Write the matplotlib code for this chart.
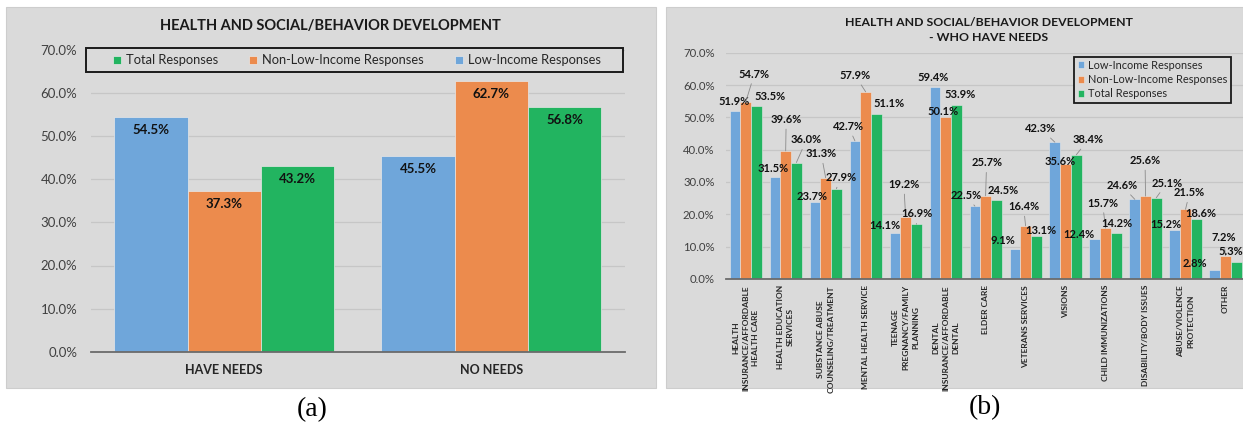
import matplotlib
matplotlib.use('Agg')
import matplotlib.pyplot as plt
from matplotlib.patches import Rectangle
import numpy as np

# ---------------- data ----------------
series_names = ['Low-Income Responses', 'Non-Low-Income Responses', 'Total Responses']

a_categories = ['HAVE NEEDS', 'NO NEEDS']
a_low = [54.5, 45.5]
a_non = [37.3, 62.7]
a_total = [43.2, 56.8]

b_categories = [
    'HEALTH\nINSURANCE/AFFORDABLE\nHEALTH CARE',
    'HEALTH EDUCATION\nSERVICES',
    'SUBSTANCE ABUSE\nCOUNSELING/TREATMENT',
    'MENTAL HEALTH SERVICE',
    'TEENAGE\nPREGNANCY/FAMILY\nPLANNING',
    'DENTAL\nINSURANCE/AFFORDABLE\nDENTAL',
    'ELDER CARE',
    'VETERANS SERVICES',
    'VISIONS',
    'CHILD IMMUNIZATIONS',
    'DISABILITY/BODY ISSUES',
    'ABUSE/VIOLENCE\nPROTECTION',
    'OTHER',
]
b_low = [51.9, 31.5, 23.7, 42.7, 14.1, 59.4, 22.5, 9.1, 42.3, 12.4, 24.6, 15.2, 2.8]
b_non = [54.7, 39.6, 31.3, 57.9, 19.2, 50.1, 25.7, 16.4, 35.6, 15.7, 25.6, 21.5, 7.2]
b_total = [53.5, 36.0, 27.9, 51.1, 16.9, 53.9, 24.5, 13.1, 38.4, 14.2, 25.1, 18.6, 5.3]

y_ticks = [0, 10, 20, 30, 40, 50, 60, 70]

# label placement (pixel offsets from bar top, Excel-moved labels)
b_low_off = [(-1, 10), (-1.5, 9), (-2.5, 6), (-6.5, 14.4), (-10.5, 7.8), (-2, 9.7), (-8.8, 10.6),
             (-11.5, 9), (-14, 13.4), (-15.5, 4.3), (-13, 13.8), (-9, 5), (-19.8, 6.6)]
b_non_off = [(8.6, 28), (0.5, 31.4), (-4.5, 24), (-10.5, 16.3), (-1.8, 32.3), (-3, 5.5), (1, 33),
             (-2, 19.3), (-5, 2), (-3, 25), (-0.5, 35.6), (4, 16.6), (-2, 17.7)]
b_total_off = [(13.5, 9.5), (10, 22.7), (4.5, 11), (13, 10), (1, 10.4), (4, 10), (7, 9),
               (5, 6), (12, 15), (0.5, 9), (10.5, 14.5), (4.5, 5), (-5, 10.5)]
b_low_lead = [0, 0, 0, 1, 0, 0, 1, 0, 1, 0, 1, 0, 0]
b_non_lead = [1, 1, 1, 1, 1, 0, 1, 1, 0, 1, 1, 1, 1]
b_total_lead = [0, 1, 1, 0, 1, 0, 0, 0, 1, 0, 1, 0, 0]

# ---------------- style ----------------
W, H = 1243, 428
BLUE = '#6fa6da'
ORANGE = '#ec8b4d'
GREEN = '#22b460'
PANEL = '#dadada'
GRID = '#c6c6c6'
FONT = ['Lato', 'DejaVu Sans']
plt.rcParams['font.family'] = FONT


def fx(x):
    return x / W


def fy(y):
    return 1 - y / H


fig = plt.figure(figsize=(W / 100, H / 100), dpi=100)
fig.patch.set_facecolor('white')

for (x0, y0, x1, y1) in [(5.7, 7.3, 656, 388.3), (666, 7.3, 1243, 388.3)]:
    fig.patches.append(Rectangle((fx(x0), fy(y1)), fx(x1) - fx(x0), fy(y0) - fy(y1),
                                 transform=fig.transFigure, facecolor=PANEL,
                                 edgecolor='#cdcdcd', lw=0.8, zorder=-5))


def style_axes(ax, fs, pad_y, pad_x):
    ax.set_facecolor('none')
    for s in ['top', 'right', 'left']:
        ax.spines[s].set_visible(False)
    ax.spines['bottom'].set_color('#6b6b6b')
    ax.spines['bottom'].set_linewidth(1.3)
    ax.set_axisbelow(True)
    ax.yaxis.grid(True, color=GRID, lw=0.9)
    ax.set_ylim(0, 70)
    ax.set_yticks(y_ticks)
    ax.set_yticklabels([f'{v:.1f}%' for v in y_ticks], fontsize=fs, color='#404040')
    ax.tick_params(axis='y', length=0, pad=pad_y)
    ax.tick_params(axis='x', length=0, pad=pad_x)


colors = [BLUE, ORANGE, GREEN]

# ---------------- panel (a) ----------------
axA = fig.add_axes([fx(90.7), fy(351.7), fx(625) - fx(90.7), fy(50) - fy(351.7)])
style_axes(axA, 9.5, 9.6, 9)
xa = np.arange(len(a_categories))
wa = 0.2745
handles = []
for k, (vals, col) in enumerate(zip([a_low, a_non, a_total], colors)):
    bars = axA.bar(xa + (k - 1) * wa, vals, wa, color=col, edgecolor='#e8e8e8', lw=0.5,
                   label=series_names[k])
    handles.append(bars)
    for xi, v in zip(xa + (k - 1) * wa, vals):
        axA.annotate(f'{v:.1f}%', (xi, v), xytext=(0, -13), textcoords='offset pixels',
                     ha='center', va='center', fontsize=9.5, fontweight='bold', color='#111111')
axA.set_xlim(-0.5, 1.5)
axA.set_xticks(xa)
axA.set_xticklabels(a_categories, fontsize=9, fontweight='bold', color='#262626')

# legend (a): frame drawn as its own box, entries centred inside
fig.patches.append(Rectangle((fx(86), fy(72.3)), fx(622.7) - fx(86), fy(48.3) - fy(72.3),
                             transform=fig.transFigure, facecolor=PANEL,
                             edgecolor='#1a1a1a', lw=1.4, zorder=3))
legA = fig.legend([handles[2], handles[1], handles[0]],
                  [series_names[2], series_names[1], series_names[0]],
                  loc='center', ncol=3, bbox_to_anchor=(fx(357), fy(60.3)),
                  fontsize=9.3, frameon=False, handlelength=0.6, handleheight=0.6,
                  handletextpad=0.4, columnspacing=2.4, borderpad=0, borderaxespad=0)
legA.set_zorder(4)
for t in legA.get_texts():
    t.set_color('#262626')

fig.text(fx(330), fy(25.7), 'HEALTH AND SOCIAL/BEHAVIOR DEVELOPMENT', ha='center', va='center',
         fontsize=10.5, fontweight='bold', color='#1a1a1a')

# ---------------- panel (b) ----------------
axB = fig.add_axes([fx(725.7), fy(278.8), fx(1243) - fx(725.7), fy(52.7) - fy(278.8)])
style_axes(axB, 8.2, 8.0, 4.5)
xb = np.arange(len(b_categories))
wb = 0.268
hb = []
for k, (vals, col, offs, leads) in enumerate(zip([b_low, b_non, b_total], colors,
                                                 [b_low_off, b_non_off, b_total_off],
                                                 [b_low_lead, b_non_lead, b_total_lead])):
    bars = axB.bar(xb + (k - 1) * wb, vals, wb, color=col, edgecolor='#e8e8e8', lw=0.4,
                   label=series_names[k])
    hb.append(bars)
    for xi, v, (dx, dy), ld in zip(xb + (k - 1) * wb, vals, offs, leads):
        kw = {}
        if ld:
            kw['arrowprops'] = dict(arrowstyle='-', color='#8a8a8a', lw=0.6,
                                    shrinkA=1, shrinkB=0)
        axB.annotate(f'{v:.1f}%', (xi, v), xytext=(dx, dy), textcoords='offset pixels',
                     ha='center', va='center', fontsize=8.0, fontweight='bold',
                     color='#111111', annotation_clip=False, **kw)
axB.set_xlim(-0.5, (1243 - 745.5) / 40)
axB.set_xticks(xb)
axB.set_xticklabels(b_categories, rotation=90, fontsize=6.0, fontweight='bold', color='#262626',
                    ha='center', va='top', multialignment='center', linespacing=1.5)

legB = fig.legend(hb, series_names, loc='center',
                  bbox_to_anchor=(fx(1152.7), fy(79.6)),
                  fontsize=7.9, frameon=True, fancybox=False, facecolor=PANEL,
                  edgecolor='#1a1a1a', framealpha=1, handlelength=0.6, handleheight=0.6,
                  handletextpad=0.4, labelspacing=0.3, borderpad=0.3, borderaxespad=0)
legB.get_frame().set_linewidth(1.3)
for t in legB.get_texts():
    t.set_color('#262626')

fig.text(fx(989), fy(30), 'HEALTH AND SOCIAL/BEHAVIOR DEVELOPMENT\n- WHO HAVE NEEDS',
         ha='center', va='center', fontsize=8.8, fontweight='bold', color='#1a1a1a',
         linespacing=1.35)

# captions
fig.text(fx(312), fy(410), '(a)', ha='center', va='center', fontsize=20,
         family=['Liberation Serif', 'DejaVu Serif'])
fig.text(fx(985), fy(408), '(b)', ha='center', va='center', fontsize=20,
         family=['Liberation Serif', 'DejaVu Serif'])

fig.savefig('out.png', dpi=100, facecolor='white')
